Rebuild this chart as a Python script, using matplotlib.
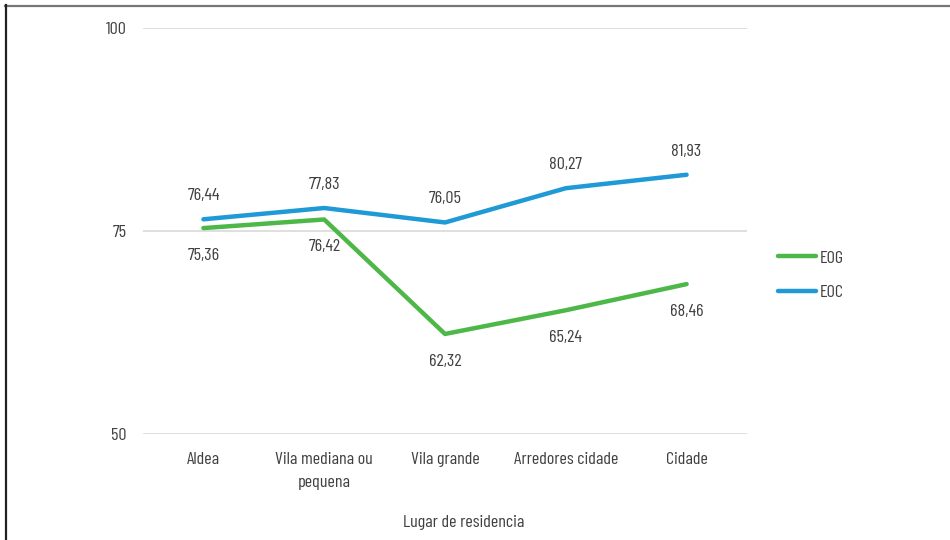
import matplotlib
matplotlib.use("Agg")
import matplotlib.pyplot as plt
from matplotlib import font_manager
from matplotlib.lines import Line2D

categories = ["Aldea", "Vila mediana ou\npequena", "Vila grande", "Arredores cidade", "Cidade"]
eog = [75.36, 76.42, 62.32, 65.24, 68.46]
eoc = [76.44, 77.83, 76.05, 80.27, 81.93]
yticks = [50, 75, 100]

names = {f.name for f in font_manager.fontManager.ttflist}
preferred = ["Barlow Condensed", "Barlow Semi Condensed", "Saira Semi Condensed",
             "Roboto Condensed", "Archivo Narrow", "PT Sans Narrow", "Liberation Sans Narrow"]
family = next((n for n in preferred if n in names), "DejaVu Sans")
plt.rcParams["font.family"] = [family, "DejaVu Sans"]

text_color = "#404040"
green = "#4DB848"
blue = "#1F9AD6"
fs = 13

fig = plt.figure(figsize=(9.5, 5.4), dpi=100)
ax = fig.add_axes([143 / 950, 1 - 434 / 540, (747 - 143) / 950, (434 - 28) / 540])

x = list(range(len(categories)))
ax.plot(x, eog, color=green, lw=3.2, solid_capstyle="round", solid_joinstyle="round", zorder=3)
ax.plot(x, eoc, color=blue, lw=3.2, solid_capstyle="round", solid_joinstyle="round", zorder=3)

def fmt(v):
    return f"{v:.2f}".replace(".", ",")

for xi, v in zip(x, eoc):
    ax.annotate(fmt(v), (xi, v), xytext=(0, 17), textcoords="offset points",
                ha="center", va="center", fontsize=fs, color=text_color)
for xi, v in zip(x, eog):
    ax.annotate(fmt(v), (xi, v), xytext=(0, -19.5), textcoords="offset points",
                ha="center", va="center", fontsize=fs, color=text_color)

ax.set_xlim(-0.5, len(categories) - 0.5)
ax.set_ylim(50, 100)
ax.set_yticks(yticks)
ax.set_yticklabels([str(t) for t in yticks])
ax.set_xticks(x)
ax.set_xticklabels(categories, linespacing=1.65, va="top")
ax.tick_params(axis="y", length=0, pad=12, labelsize=fs, labelcolor=text_color)
ax.tick_params(axis="x", length=0, pad=13, labelsize=fs, labelcolor=text_color)
ax.grid(axis="y", color="#D9D9D9", lw=1.2)
ax.set_axisbelow(True)
for s in ax.spines.values():
    s.set_visible(False)

fig.text(464 / 950, 1 - 522 / 540, "Lugar de residencia", ha="center", va="center",
         fontsize=fs, color=text_color)

handles = [Line2D([], [], color=green, lw=3.2, solid_capstyle="round"),
           Line2D([], [], color=blue, lw=3.2, solid_capstyle="round")]
fig.legend(handles, ["EOG", "EOC"], loc="center left", bbox_to_anchor=(762 / 950, 1 - 275 / 540),
           frameon=False, fontsize=fs, labelcolor=text_color, handlelength=2.1,
           handletextpad=0.2, labelspacing=1.05)

# outer frame edges
fig.add_artist(Line2D([5 / 950, 1], [1 - 5.5 / 540, 1 - 5.5 / 540], transform=fig.transFigure,
                      color="#777777", lw=1.6))
fig.add_artist(Line2D([5.5 / 950, 5.5 / 950], [0, 1 - 5 / 540], transform=fig.transFigure,
                      color="#222222", lw=1.6))

fig.savefig("out.png", dpi=100, facecolor="white")
